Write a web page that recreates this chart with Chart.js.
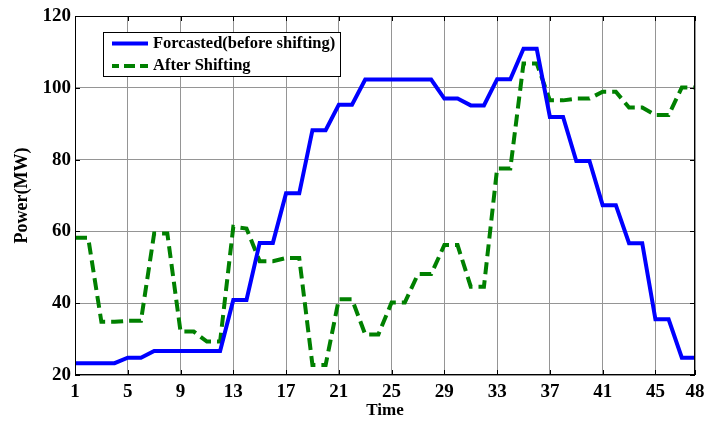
<!DOCTYPE html>
<html>
<head>
<meta charset="utf-8">
<script src="https://cdn.jsdelivr.net/npm/chart.js@4/dist/chart.umd.min.js"></script>
<style>
  html, body { margin: 0; padding: 0; background: #fff; }
  #wrap { width: 721px; height: 422px; }
</style>
</head>
<body>
<div id="wrap"><canvas id="c" width="721" height="422"></canvas></div>
<script>
// Time slots (half-hour periods of a day)
const timeSlots = [1,2,3,4,5,6,7,8,9,10,11,12,13,14,15,16,17,18,19,20,21,22,23,24,
                   25,26,27,28,29,30,31,32,33,34,35,36,37,38,39,40,41,42,43,44,45,46,47,48];

// Forecast load before shifting (MW)
const forecastLoad = [23.3,23.3,23.3,23.3,24.8,24.8,26.7,26.7,26.7,26.7,26.7,26.7,
                      40.9,40.9,56.8,56.8,70.6,70.6,88.2,88.2,95.3,95.3,102.3,102.3,
                      102.3,102.3,102.3,102.3,97.0,97.0,95.1,95.1,102.4,102.4,110.9,110.9,
                      91.9,91.9,79.6,79.6,67.3,67.3,56.7,56.7,35.5,35.5,24.8,24.8];

// Load after shifting (MW)
const shiftedLoad = [58.2,58.2,34.8,34.8,35.1,35.1,59.4,59.4,32.1,32.1,29.3,29.3,
                     61.3,60.8,51.7,51.7,52.6,52.6,22.8,22.8,41.1,41.1,31.3,31.3,
                     40.2,40.2,48.1,48.1,56.2,56.2,44.6,44.6,77.5,77.5,106.8,106.8,
                     96.5,96.5,97.0,97.0,98.9,98.9,94.5,94.5,92.4,92.4,100.1,100.1];

// Axis tick labels
const xTicks = [1,5,9,13,17,21,25,29,33,37,41,45,48];
const yTicks = [20,40,60,80,100,120];

const seriesNames = ['Forcasted(before shifting)', 'After Shifting'];

const serif = '"Liberation Serif", "Times New Roman", serif';

// Frame around the plot area with inward tick marks on every side
const framePlugin = {
  id: 'frame',
  afterDraw(chart) {
    const { ctx, chartArea: a, scales } = chart;
    ctx.save();
    ctx.strokeStyle = '#000';
    ctx.lineWidth = 1;
    ctx.strokeRect(a.left + 0.5, a.top + 0.5, a.right - a.left - 1, a.bottom - a.top - 1);
    const t = 5;
    ctx.beginPath();
    xTicks.forEach(v => {
      const x = Math.round(scales.x.getPixelForValue(v)) + 0.5;
      ctx.moveTo(x, a.bottom); ctx.lineTo(x, a.bottom - t);
      ctx.moveTo(x, a.top); ctx.lineTo(x, a.top + t);
    });
    yTicks.forEach(v => {
      const y = Math.round(scales.y.getPixelForValue(v)) + 0.5;
      ctx.moveTo(a.left, y); ctx.lineTo(a.left + t, y);
      ctx.moveTo(a.right, y); ctx.lineTo(a.right - t, y);
    });
    ctx.stroke();
    ctx.restore();
  }
};

// Boxed legend inside the upper-left corner of the plot
const boxLegendPlugin = {
  id: 'boxLegend',
  afterDraw(chart) {
    const { ctx } = chart;
    const box = { x: 103.5, y: 32.5, w: 237, h: 44 };
    ctx.save();
    ctx.fillStyle = '#fff';
    ctx.fillRect(box.x, box.y, box.w, box.h);
    ctx.strokeStyle = '#000';
    ctx.lineWidth = 1;
    ctx.strokeRect(box.x, box.y, box.w, box.h);
    const rows = [43.5, 66];
    chart.data.datasets.forEach((ds, i) => {
      const y = rows[i];
      ctx.beginPath();
      ctx.strokeStyle = ds.borderColor;
      ctx.lineWidth = ds.borderWidth;
      ctx.setLineDash(ds.borderDash ? [11, 5] : []);
      ctx.lineDashOffset = ds.borderDash ? 4 : 0;
      ctx.moveTo(112, y);
      ctx.lineTo(148, y);
      ctx.stroke();
      ctx.setLineDash([]);
      ctx.fillStyle = '#000';
      ctx.font = 'bold 16.5px ' + serif;
      ctx.textBaseline = 'middle';
      ctx.textAlign = 'left';
      ctx.fillText(ds.label, 153, y);
    });
    ctx.restore();
  }
};

const toPoints = ys => timeSlots.map((t, i) => ({ x: t, y: ys[i] }));

new Chart(document.getElementById('c'), {
  type: 'line',
  data: {
    datasets: [
      {
        label: seriesNames[0],
        data: toPoints(forecastLoad),
        borderColor: '#0000ff',
        borderWidth: 4,
        pointRadius: 0,
        tension: 0,
        fill: false
      },
      {
        label: seriesNames[1],
        data: toPoints(shiftedLoad),
        borderColor: '#008000',
        borderWidth: 4,
        borderDash: [12, 6],
        pointRadius: 0,
        tension: 0,
        fill: false
      }
    ]
  },
  options: {
    responsive: false,
    animation: false,
    layout: { padding: { top: 16, right: 26, left: 0, bottom: 0 } },
    plugins: {
      legend: { display: false },
      tooltip: { enabled: false }
    },
    scales: {
      x: {
        type: 'linear',
        min: 1,
        max: 48,
        afterBuildTicks(scale) { scale.ticks = xTicks.map(v => ({ value: v })); },
        afterFit(scale) { scale.height = 47; },
        grid: { color: '#959595', lineWidth: 1, drawTicks: false },
        border: { display: false },
        ticks: {
          color: '#000',
          padding: 6,
          maxRotation: 0,
          autoSkip: false,
          font: { family: serif, size: 19, weight: 'bold' }
        },
        title: {
          display: true,
          text: 'Time',
          color: '#000',
          padding: { top: 0, bottom: 1 },
          font: { family: serif, size: 17, weight: 'bold' }
        }
      },
      y: {
        min: 20,
        max: 120,
        afterBuildTicks(scale) { scale.ticks = yTicks.map(v => ({ value: v })); },
        afterFit(scale) { scale.width = 75; },
        grid: { color: '#959595', lineWidth: 1, drawTicks: false },
        border: { display: false },
        ticks: {
          color: '#000',
          padding: 4,
          font: { family: serif, size: 19, weight: 'bold' }
        },
        title: {
          display: true,
          text: 'Power(MW)',
          color: '#000',
          padding: { top: 12, bottom: 0 },
          font: { family: serif, size: 18, weight: 'bold' }
        }
      }
    }
  },
  plugins: [framePlugin, boxLegendPlugin]
});
</script>
</body>
</html>
